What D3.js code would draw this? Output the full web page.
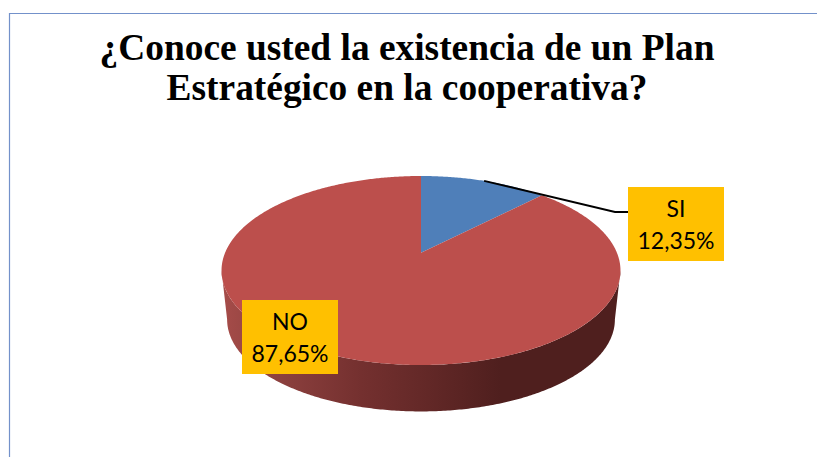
<!DOCTYPE html>
<html lang="es">
<head>
<meta charset="utf-8">
<title>Plan Estratégico</title>
<script src="https://cdn.jsdelivr.net/npm/d3@7"></script>
<style>
  html, body { margin: 0; padding: 0; background: #fff; }
  svg { display: block; }
</style>
</head>
<body>
<script>
// Survey answers
const categories = ["SI", "NO"];
const percentages = [12.35, 87.65];
const sliceColors = ["#4f7fb9", "#bc4f4c"];
const titleLines = ["¿Conoce usted la existencia de un Plan", "Estratégico en la cooperativa?"];

const width = 817, height = 457;
const svg = d3.select("body").append("svg").attr("width", width).attr("height", height);

// Perspective projection of the tilted disc onto the page
const apex = { x: 421, y: 252.7 };
const tilt = 0.1884, halfWidth = 195.9, halfDepth = 91.15;
const wallDrop = 49, wallShrink = 0.972;

function project(angle, level) {
  const w = 1 + tilt * Math.cos(angle);
  const s = level ? wallShrink : 1;
  return [
    apex.x + s * halfWidth * Math.sin(angle) / w,
    apex.y - s * halfDepth * Math.cos(angle) / w + (level ? wallDrop + (1 - wallShrink) * 20 : 0)
  ];
}
function sweep(a0, a1, level) {
  const n = Math.max(2, Math.ceil(Math.abs(a1 - a0) / 0.01));
  return d3.range(n + 1).map(i => project(a0 + (a1 - a0) * i / n, level));
}
const line = d3.line();
const arcs = d3.pie().sort(null)(percentages);

// Side wall, visible along the front half of the disc
const defs = svg.append("defs");
const grad = defs.append("linearGradient").attr("id", "wall")
  .attr("gradientUnits", "userSpaceOnUse")
  .attr("x1", 222).attr("x2", 620).attr("y1", 0).attr("y2", 0);
[[0, "#a64c49"], [0.12, "#8f4240"], [0.35, "#74302f"], [0.6, "#5a2423"], [0.7, "#4f1f1e"], [1, "#4f1f1e"]]
  .forEach(([o, c]) => grad.append("stop").attr("offset", o).attr("stop-color", c));

const edge = Math.acos(-tilt);
const wallPts = sweep(edge, 2 * Math.PI - edge, 0).concat(sweep(2 * Math.PI - edge, edge, 1));
svg.append("path").attr("d", line(wallPts) + "Z").attr("fill", "url(#wall)");

// Top face
svg.append("g").selectAll("path").data(arcs).join("path")
  .attr("d", d => line([[apex.x, apex.y], ...sweep(d.startAngle, d.endAngle, 0)]) + "Z")
  .attr("fill", (d, i) => sliceColors[i]);

// Frame of the chart area
svg.append("path").attr("d", `M9.5,${height}V13.5H${width}`)
  .attr("fill", "none").attr("stroke", "#7391ca").attr("stroke-width", 1.2);

// Title
svg.append("g").selectAll("text").data(titleLines).join("text")
  .attr("x", 407).attr("y", (d, i) => 60 + i * 40)
  .attr("text-anchor", "middle")
  .attr("font-family", "'Liberation Serif', serif").attr("font-weight", "bold")
  .attr("font-size", 37.4).attr("fill", "#000")
  .text(d => d);

// Data labels on amber boxes
const labelBoxes = [{ x: 628, y: 187 }, { x: 242, y: 300 }];
const boxW = 96, boxH = 74;
const fmt = v => v.toFixed(2).replace(".", ",") + "%";

// Leader line from the SI slice to its label
const mid = (arcs[0].startAngle + arcs[0].endAngle) / 2;
const anchor = project(mid, 0);
svg.append("path")
  .attr("d", line([anchor, [615, 212], [labelBoxes[0].x, 212]]))
  .attr("fill", "none").attr("stroke", "#000").attr("stroke-width", 1.8);

const labels = svg.append("g").selectAll("g").data(categories).join("g")
  .attr("transform", (d, i) => `translate(${labelBoxes[i].x},${labelBoxes[i].y})`);
labels.append("text").attr("x", boxW / 2).attr("y", 30);
labels.insert("rect", "text").attr("width", boxW).attr("height", boxH).attr("fill", "#ffc000");
labels.select("text")
  .attr("text-anchor", "middle").attr("font-family", "Lato, sans-serif").attr("font-size", 23)
  .text(d => d);
labels.append("text").attr("x", boxW / 2).attr("y", 62)
  .attr("text-anchor", "middle").attr("font-family", "Lato, sans-serif").attr("font-size", 23)
  .text((d, i) => fmt(percentages[i]));
</script>
</body>
</html>
